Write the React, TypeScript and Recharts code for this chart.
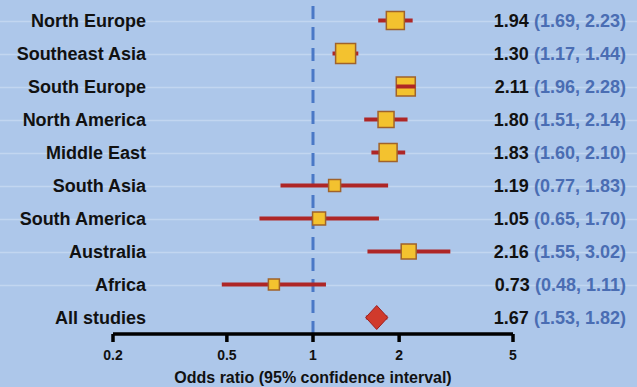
import { ScatterChart, Scatter, XAxis, YAxis, CartesianGrid, ReferenceLine, ErrorBar, Label } from 'recharts';

const regions = [
  'North Europe',
  'Southeast Asia',
  'South Europe',
  'North America',
  'Middle East',
  'South Asia',
  'South America',
  'Australia',
  'Africa',
  'All studies',
];
const oddsRatio = [1.94, 1.3, 2.11, 1.8, 1.83, 1.19, 1.05, 2.16, 0.73, 1.67];
const ciLow = [1.69, 1.17, 1.96, 1.51, 1.6, 0.77, 0.65, 1.55, 0.48, 1.53];
const ciHigh = [2.23, 1.44, 2.28, 2.14, 2.1, 1.83, 1.7, 3.02, 1.11, 1.82];
// study weight -> marker side in px
const weights = [18, 20, 19, 16, 18, 12, 13, 15, 11, 22];
const xTicks = [0.2, 0.5, 1, 2, 5];

const BG = '#adc7ea';
const CI_RED = '#ae2626';
const BLUE = '#4a6db3';
const FONT = '"Liberation Sans", Arial, sans-serif';

const rows = regions.map((name, i) => ({
  idx: i,
  name,
  or: oddsRatio[i],
  lo: ciLow[i],
  hi: ciHigh[i],
  err: [oddsRatio[i] - ciLow[i], ciHigh[i] - oddsRatio[i]],
  w: weights[i],
}));
const studies = rows.slice(0, 9);
const pooled = rows.slice(9);
const rowTicks = rows.map((r) => r.idx);

const fmt = (v: number) => v.toFixed(2);

function LeftTick(props: any) {
  const { y, payload } = props;
  return (
    <text x={146} y={y} dy={6} textAnchor="end" fontFamily={FONT} fontSize={18} fontWeight={700} fill="#111">
      {regions[payload.value]}
    </text>
  );
}

function RightTick(props: any) {
  const { y, payload } = props;
  const i = payload.value;
  return (
    <text x={626} y={y} dy={6} textAnchor="end" fontFamily={FONT} fontSize={18} fontWeight={700}>
      <tspan fill="#111">{fmt(oddsRatio[i])} </tspan>
      <tspan fill={BLUE}>({fmt(ciLow[i])}, {fmt(ciHigh[i])})</tspan>
    </text>
  );
}

function Square(props: any) {
  const { cx, cy, payload } = props;
  const s = payload.w;
  return (
    <g>
      <rect x={cx - s / 2} y={cy - s / 2} width={s} height={s} fill="#f3c22f" stroke="#a0622a" strokeWidth={1.5} />
      {/* this one's CI is narrower than the box, drawn on top like the original */}
      {payload.name === 'South Europe' && (
        <line x1={cx - s / 2} x2={cx + s / 2} y1={cy} y2={cy} stroke={CI_RED} strokeWidth={4} />
      )}
    </g>
  );
}

function Diamond(props: any) {
  const { cx, cy } = props;
  const hw = 11;
  const hh = 12;
  return (
    <polygon
      points={`${cx - hw},${cy} ${cx},${cy - hh} ${cx + hw},${cy} ${cx},${cy + hh}`}
      fill="#d03a2c"
      stroke="#9e1f1f"
      strokeWidth={1}
    />
  );
}

function GridLine(p: any) {
  if (p.index > 8) return <g key={`gl-${p.index}`} />;
  return <line key={`gl-${p.index}`} x1={0} x2={637} y1={p.y1 + 1} y2={p.y2 + 1} stroke="#c2d6f0" strokeWidth={1.5} />;
}

export default function App() {
  return (
    <div style={{ position: 'absolute', left: 0, top: 0, width: 637, height: 387, background: BG, overflow: 'hidden' }}>
      <ScatterChart width={637} height={387} margin={{ top: 4, right: 0, bottom: 0, left: 0 }}>
        <CartesianGrid vertical={false} horizontal={GridLine} />
        <XAxis
          type="number"
          dataKey="or"
          scale="log"
          domain={[0.2, 5]}
          ticks={xTicks}
          allowDataOverflow
          height={53}
          axisLine={{ stroke: '#000', strokeWidth: 3.5 }}
          tickLine={{ stroke: '#000', strokeWidth: 3.5 }}
          tickSize={8}
          tickMargin={8}
          tick={{ fill: '#111', fontSize: 14, fontWeight: 700, fontFamily: FONT }}
          tickFormatter={(v: number) => String(v)}
        >
          <Label
            value="Odds ratio (95% confidence interval)"
            position="insideBottom"
            offset={4}
            style={{ fill: '#111', fontSize: 16, fontWeight: 700, fontFamily: FONT }}
          />
        </XAxis>
        <YAxis
          type="number"
          dataKey="idx"
          domain={[-0.5, 9.5]}
          reversed
          ticks={rowTicks}
          interval={0}
          allowDataOverflow
          width={113}
          axisLine={false}
          tickLine={false}
          tick={<LeftTick />}
        />
        <YAxis
          yAxisId="right"
          orientation="right"
          type="number"
          dataKey="idx"
          domain={[-0.5, 9.5]}
          reversed
          ticks={rowTicks}
          interval={0}
          allowDataOverflow
          width={124}
          axisLine={false}
          tickLine={false}
          tick={<RightTick />}
        />
        <ReferenceLine x={1} stroke="#4a78c6" strokeWidth={3} strokeDasharray="13 8" />
        <Scatter data={studies} shape={Square} isAnimationActive={false}>
          <ErrorBar dataKey="err" direction="x" width={0} stroke={CI_RED} strokeWidth={4} />
        </Scatter>
        <Scatter data={pooled} shape={Diamond} isAnimationActive={false}>
          <ErrorBar dataKey="err" direction="x" width={0} stroke={CI_RED} strokeWidth={4} />
        </Scatter>
        <Scatter yAxisId="right" data={rows} shape={() => <g />} isAnimationActive={false} />
      </ScatterChart>
    </div>
  );
}
